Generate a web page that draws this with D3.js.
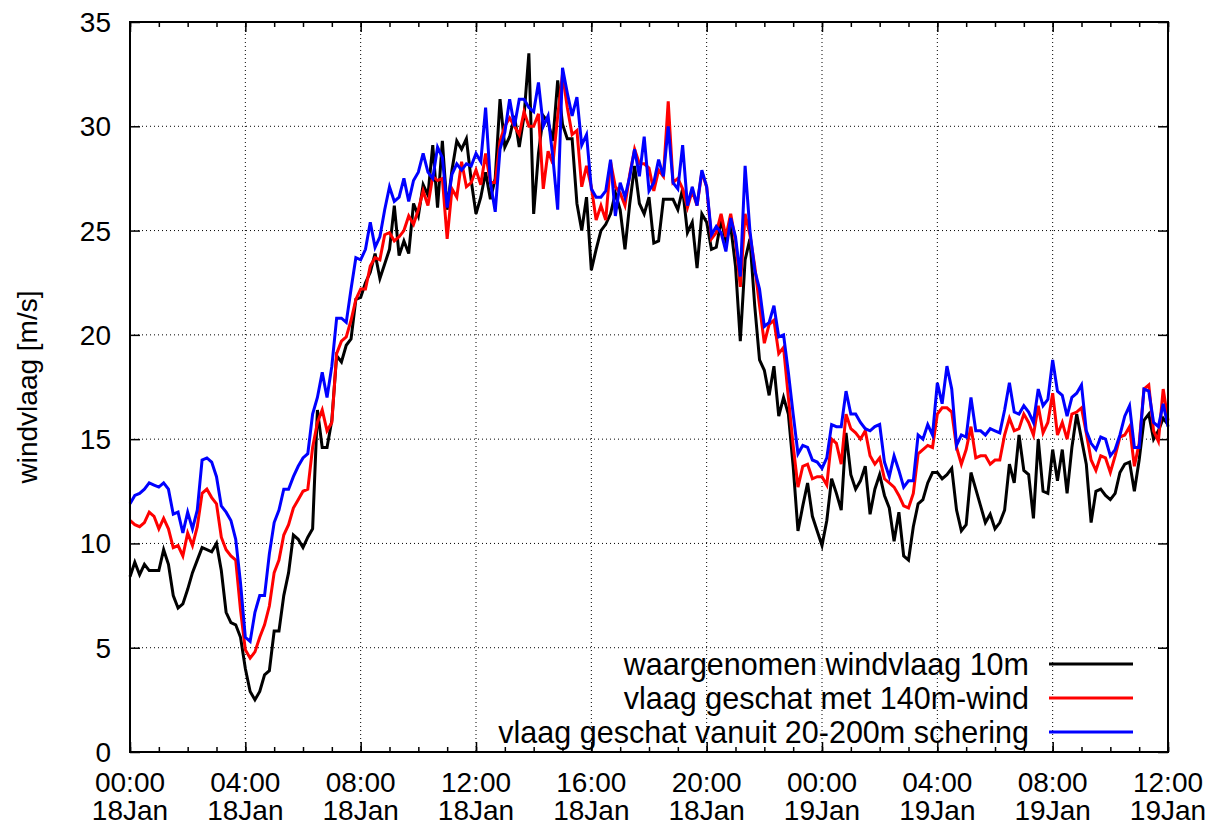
<!DOCTYPE html>
<html>
<head>
<meta charset="utf-8">
<script src="https://cdn.jsdelivr.net/npm/d3@7"></script>
<style>
  body { margin: 0; background: #fff; }
  svg text { font-family: "Liberation Sans", Arial, Helvetica, sans-serif; fill: #000; }
</style>
</head>
<body>
<div id="chart"></div>
<script>
// time axis: 10-minute values from 18 Jan 00:00 (UTC)
const startTime = Date.UTC(2018, 0, 18, 0, 0);
const stepMinutes = 10;

const tickHours = [0, 4, 8, 12, 16, 20, 24, 28, 32, 36];
const tickTimeLabels = ["00:00", "04:00", "08:00", "12:00", "16:00", "20:00", "00:00", "04:00", "08:00", "12:00"];
const tickDayLabels = ["18Jan", "18Jan", "18Jan", "18Jan", "18Jan", "18Jan", "19Jan", "19Jan", "19Jan", "19Jan"];
const yTicks = [0, 5, 10, 15, 20, 25, 30, 35];

const seriesNames = ["waargenomen windvlaag 10m", "vlaag geschat met 140m-wind", "vlaag geschat vanuit 20-200m schering"];
const seriesColors = ["#000000", "#ff0000", "#0000ff"];

const observed = [
  8.4, 9.1, 8.5, 9.0, 8.7, 8.7, 8.7, 9.7, 9.0, 7.5,
  6.9, 7.1, 7.8, 8.6, 9.2, 9.8, 9.7, 9.6, 10.0, 8.7,
  6.7, 6.2, 6.1, 5.5, 4.0, 2.9, 2.5, 2.9, 3.7, 3.9,
  5.8, 5.8, 7.5, 8.6, 10.4, 10.2, 9.8, 10.3, 10.7, 16.4,
  14.6, 14.6, 15.9, 19.0, 18.7, 19.5, 19.8, 21.7, 21.8, 22.5,
  23.0, 23.9, 22.7, 23.4, 24.1, 26.2, 23.8, 24.5, 23.9, 26.3,
  25.7, 27.2, 26.7, 29.1, 26.1, 29.3, 26.0, 27.9, 29.3, 28.9,
  29.4, 27.4, 25.8, 26.6, 27.8, 26.5, 27.5, 31.3, 29.0, 29.5,
  30.5, 29.0, 30.5, 33.5, 25.8, 28.7, 30.5, 30.2, 29.3, 32.2,
  30.1, 29.4, 29.4, 26.3, 25.0, 26.6, 23.1, 24.1, 25.0, 25.3,
  25.8, 26.8, 26.0, 24.1, 26.3, 28.1, 26.3, 25.8, 26.6, 24.4,
  24.5, 26.5, 26.5, 26.5, 26.0, 27.0, 24.9, 25.4, 23.2, 25.8,
  25.4, 24.1, 24.2, 25.5, 24.5, 25.2, 23.3, 19.7, 23.6, 24.6,
  21.4, 18.8, 18.3, 17.1, 18.5, 16.1, 17.0, 16.2, 13.7, 10.6,
  11.8, 12.9, 11.3, 10.6, 9.9, 11.1, 13.1, 12.4, 11.6, 15.3,
  13.3, 12.6, 13.0, 13.7, 11.4, 12.6, 13.3, 12.3, 11.7, 10.1,
  11.5, 9.4, 9.2, 10.8, 11.9, 12.1, 12.9, 13.4, 13.4, 13.1,
  13.3, 13.6, 11.6, 10.6, 10.9, 13.4, 12.6, 11.8, 11.0, 11.4,
  10.7, 11.0, 11.6, 13.8, 12.9, 15.2, 13.5, 13.3, 11.2, 15.0,
  12.5, 12.4, 14.5, 13.0, 14.5, 12.4, 14.6, 16.2, 15.0, 13.8,
  11.0, 12.5, 12.6, 12.3, 12.1, 12.4, 13.4, 13.8, 13.9, 12.5,
  14.0, 15.9, 16.2, 15.0, 15.4, 16.0, 15.7
];

const gust140 = [
  11.1, 10.9, 10.8, 11.0, 11.5, 11.3, 10.7, 11.2, 10.7, 9.8,
  9.9, 9.4, 10.5, 9.9, 10.8, 12.4, 12.6, 12.2, 11.9, 10.3,
  9.7, 9.4, 9.2, 6.8, 4.9, 4.5, 4.8, 5.5, 6.1, 7.0,
  8.6, 9.2, 10.4, 10.9, 11.7, 12.1, 12.5, 12.6, 14.6, 15.8,
  16.4, 15.4, 15.8, 19.1, 19.7, 19.9, 20.7, 21.7, 22.2, 22.2,
  23.3, 23.7, 23.6, 24.8, 24.9, 24.5, 24.7, 25.0, 25.7, 25.3,
  26.0, 26.9, 26.2, 27.6, 27.4, 27.5, 24.6, 27.0, 26.6, 28.3,
  27.1, 27.3, 27.9, 27.2, 28.7, 27.3, 27.3, 29.3, 30.0, 30.4,
  30.0, 29.6, 30.7, 30.0, 30.0, 30.6, 27.0, 28.8, 28.2, 30.5,
  32.5, 30.9, 29.6, 29.8, 27.1, 28.1, 27.1, 25.5, 26.2, 25.5,
  28.3, 27.1, 26.8, 26.2, 27.7, 28.9, 28.2, 28.2, 28.0, 26.9,
  27.9, 27.6, 31.2, 27.3, 27.5, 27.0, 26.1, 26.9, 26.2, 27.8,
  27.1, 24.6, 24.9, 25.8, 24.7, 25.8, 24.5, 22.3, 25.8, 24.8,
  23.3, 21.4, 19.6, 20.5, 20.7, 19.1, 19.4, 17.0, 14.7, 12.7,
  13.7, 13.8, 13.1, 13.2, 13.2, 12.8, 15.0, 14.8, 13.8, 16.2,
  15.5, 15.3, 15.0, 15.4, 14.2, 13.8, 14.1, 13.1, 12.9, 12.7,
  12.3, 11.8, 11.7, 12.4, 14.3, 14.5, 14.7, 14.6, 16.2, 16.5,
  16.5, 16.3, 14.6, 13.8, 14.5, 15.6, 14.1, 14.2, 14.2, 13.8,
  14.0, 14.0, 15.2, 16.0, 15.4, 15.5, 16.2, 15.8, 15.2, 16.6,
  15.3, 15.8, 17.2, 15.2, 15.8, 15.0, 16.2, 16.3, 16.5, 15.3,
  14.0, 13.5, 14.2, 14.1, 13.4, 14.2, 15.1, 15.2, 15.6, 13.7,
  14.8, 17.4, 17.6, 15.4, 14.9, 17.4, 15.9
];

const gustShear = [
  11.9, 12.3, 12.4, 12.6, 12.9, 12.8, 12.7, 12.9, 12.6, 11.4,
  11.5, 10.5, 11.5, 10.7, 11.6, 14.0, 14.1, 13.9, 13.2, 11.8,
  11.5, 11.1, 10.2, 8.1, 5.5, 5.3, 6.7, 7.5, 7.5, 9.5,
  11.0, 11.6, 12.6, 12.6, 13.2, 13.7, 14.1, 14.3, 16.2, 17.0,
  18.2, 17.0, 18.5, 20.8, 20.8, 20.6, 22.2, 23.7, 23.6, 24.1,
  25.4, 24.2, 24.7, 26.0, 27.1, 26.4, 26.6, 27.5, 26.4, 27.4,
  27.8, 28.7, 27.8, 27.5, 29.0, 28.5, 26.1, 27.7, 28.2, 27.9,
  28.2, 28.1, 28.7, 28.3, 30.9, 27.3, 25.9, 28.9, 29.7, 31.3,
  30.0, 31.3, 31.3, 30.9, 30.7, 32.1, 30.0, 30.5, 28.5, 26.0,
  32.8, 31.6, 30.5, 31.4, 29.1, 29.6, 27.0, 26.6, 26.6, 26.9,
  28.4, 25.7, 27.3, 26.6, 27.6, 28.9, 27.6, 29.5, 26.9, 27.3,
  28.4, 27.6, 30.0, 27.3, 27.0, 29.1, 26.2, 27.1, 26.2, 27.9,
  27.1, 24.8, 25.2, 24.9, 24.0, 25.6, 24.7, 22.8, 28.1, 25.0,
  23.1, 22.2, 20.4, 20.6, 21.4, 19.9, 20.0, 18.2, 16.2, 14.3,
  14.7, 14.6, 14.0, 13.9, 13.6, 14.1, 15.7, 15.6, 15.6, 17.3,
  16.2, 16.2, 15.8, 15.5, 15.4, 15.6, 15.7, 13.9, 13.2, 14.2,
  13.5, 12.7, 13.0, 13.0, 15.2, 15.0, 15.7, 15.2, 17.7, 16.7,
  18.5, 17.4, 14.7, 15.2, 15.1, 17.0, 15.4, 15.4, 15.2, 15.5,
  15.4, 15.3, 16.4, 17.7, 16.3, 16.2, 16.6, 16.3, 15.8, 17.4,
  16.6, 16.9, 18.8, 17.3, 17.1, 16.1, 17.0, 17.2, 17.6, 15.4,
  14.8, 14.5, 15.1, 15.0, 14.2, 14.5, 15.2, 16.1, 16.6, 14.6,
  14.6, 17.4, 17.3, 15.8, 15.6, 16.7, 15.6
];

const margin = { top: 22, right: 52, bottom: 73, left: 130 },
      width = 1220 - margin.left - margin.right,
      height = 825 - margin.top - margin.bottom;

const svg = d3.select("#chart")
    .append("svg")
        .attr("width", width + margin.left + margin.right)
        .attr("height", height + margin.top + margin.bottom)
    .append("g")
        .attr("transform", `translate(${margin.left},${margin.top})`);

const timeAt = h => new Date(startTime + h * 3600e3);
const times = observed.map((d, i) => new Date(startTime + i * stepMinutes * 60e3));

const x = d3.scaleUtc()
    .domain([timeAt(0), timeAt(36)])
    .range([0, width]);

const y = d3.scaleLinear()
    .domain([0, 35])
    .range([height, 0]);

// dotted grid
svg.append("g")
    .selectAll("line")
    .data(yTicks.slice(1, -1))
    .join("line")
        .attr("x1", 0).attr("x2", width)
        .attr("y1", d => y(d)).attr("y2", d => y(d))
        .attr("stroke", "#000").attr("stroke-width", 1)
        .attr("stroke-dasharray", "1,3");

svg.append("g")
    .selectAll("line")
    .data(tickHours.slice(1, -1))
    .join("line")
        .attr("x1", d => x(timeAt(d))).attr("x2", d => x(timeAt(d)))
        .attr("y1", 0).attr("y2", height)
        .attr("stroke", "#000").attr("stroke-width", 1)
        .attr("stroke-dasharray", "1,3");

// ticks (inward, mirrored on top and right)
const minorHours = d3.range(0, 37);
const tickAxis = (axis, transform) => {
    const g = svg.append("g").attr("transform", transform).call(axis);
    g.select(".domain").remove();
    g.selectAll(".tick line").attr("stroke", "#000").attr("stroke-width", 1.5);
    g.selectAll(".tick text").remove();
    return g;
};

tickAxis(d3.axisBottom(x).tickValues(minorHours.map(timeAt)).tickSize(-5), `translate(0,${height})`);
tickAxis(d3.axisBottom(x).tickValues(tickHours.map(timeAt)).tickSize(-10), `translate(0,${height})`);
tickAxis(d3.axisTop(x).tickValues(minorHours.map(timeAt)).tickSize(-5), "translate(0,0)");
tickAxis(d3.axisTop(x).tickValues(tickHours.map(timeAt)).tickSize(-10), "translate(0,0)");
tickAxis(d3.axisLeft(y).tickValues(yTicks).tickSize(-10), "translate(0,0)");
tickAxis(d3.axisRight(y).tickValues(yTicks).tickSize(-10), `translate(${width},0)`);

// tick labels
svg.append("g")
    .selectAll("text")
    .data(yTicks)
    .join("text")
        .attr("x", -19)
        .attr("y", d => y(d) + 10)
        .attr("text-anchor", "end")
        .style("font-size", "28px")
        .text(d => d);

const xLabels = svg.append("g")
    .selectAll("text")
    .data(tickHours)
    .join("text")
        .attr("text-anchor", "middle")
        .style("font-size", "28px");
xLabels.append("tspan")
    .attr("x", d => x(timeAt(d)))
    .attr("y", height + 40)
    .text((d, i) => tickTimeLabels[i]);
xLabels.append("tspan")
    .attr("x", d => x(timeAt(d)))
    .attr("y", height + 68)
    .text((d, i) => tickDayLabels[i]);

// y axis label
svg.append("text")
    .attr("transform", `translate(${-93},${height / 2}) rotate(-90)`)
    .attr("text-anchor", "middle")
    .style("font-size", "28px")
    .text("windvlaag [m/s]");

// lines
const line = d3.line()
    .x((d, i) => x(times[i]))
    .y(d => y(d));

[observed, gust140, gustShear].forEach((values, k) => {
    svg.append("path")
        .datum(values)
        .attr("fill", "none")
        .attr("stroke", seriesColors[k])
        .attr("stroke-width", 3)
        .attr("stroke-linejoin", "miter")
        .attr("d", line);
});

// legend
const legend = svg.selectAll(".legend")
    .data(seriesNames)
    .join("g")
        .attr("transform", (d, i) => `translate(0,${642 + i * 34})`);

legend.append("text")
    .attr("x", 899)
    .attr("y", 11)
    .attr("text-anchor", "end")
    .style("font-size", "30.5px")
    .text(d => d);

legend.append("line")
    .attr("x1", 919).attr("x2", 1003)
    .attr("y1", 0).attr("y2", 0)
    .attr("stroke", (d, i) => seriesColors[i])
    .attr("stroke-width", 3);

// border
svg.append("rect")
    .attr("width", width)
    .attr("height", height)
    .attr("fill", "none")
    .attr("stroke", "#000")
    .attr("stroke-width", 2);
</script>
</body>
</html>
